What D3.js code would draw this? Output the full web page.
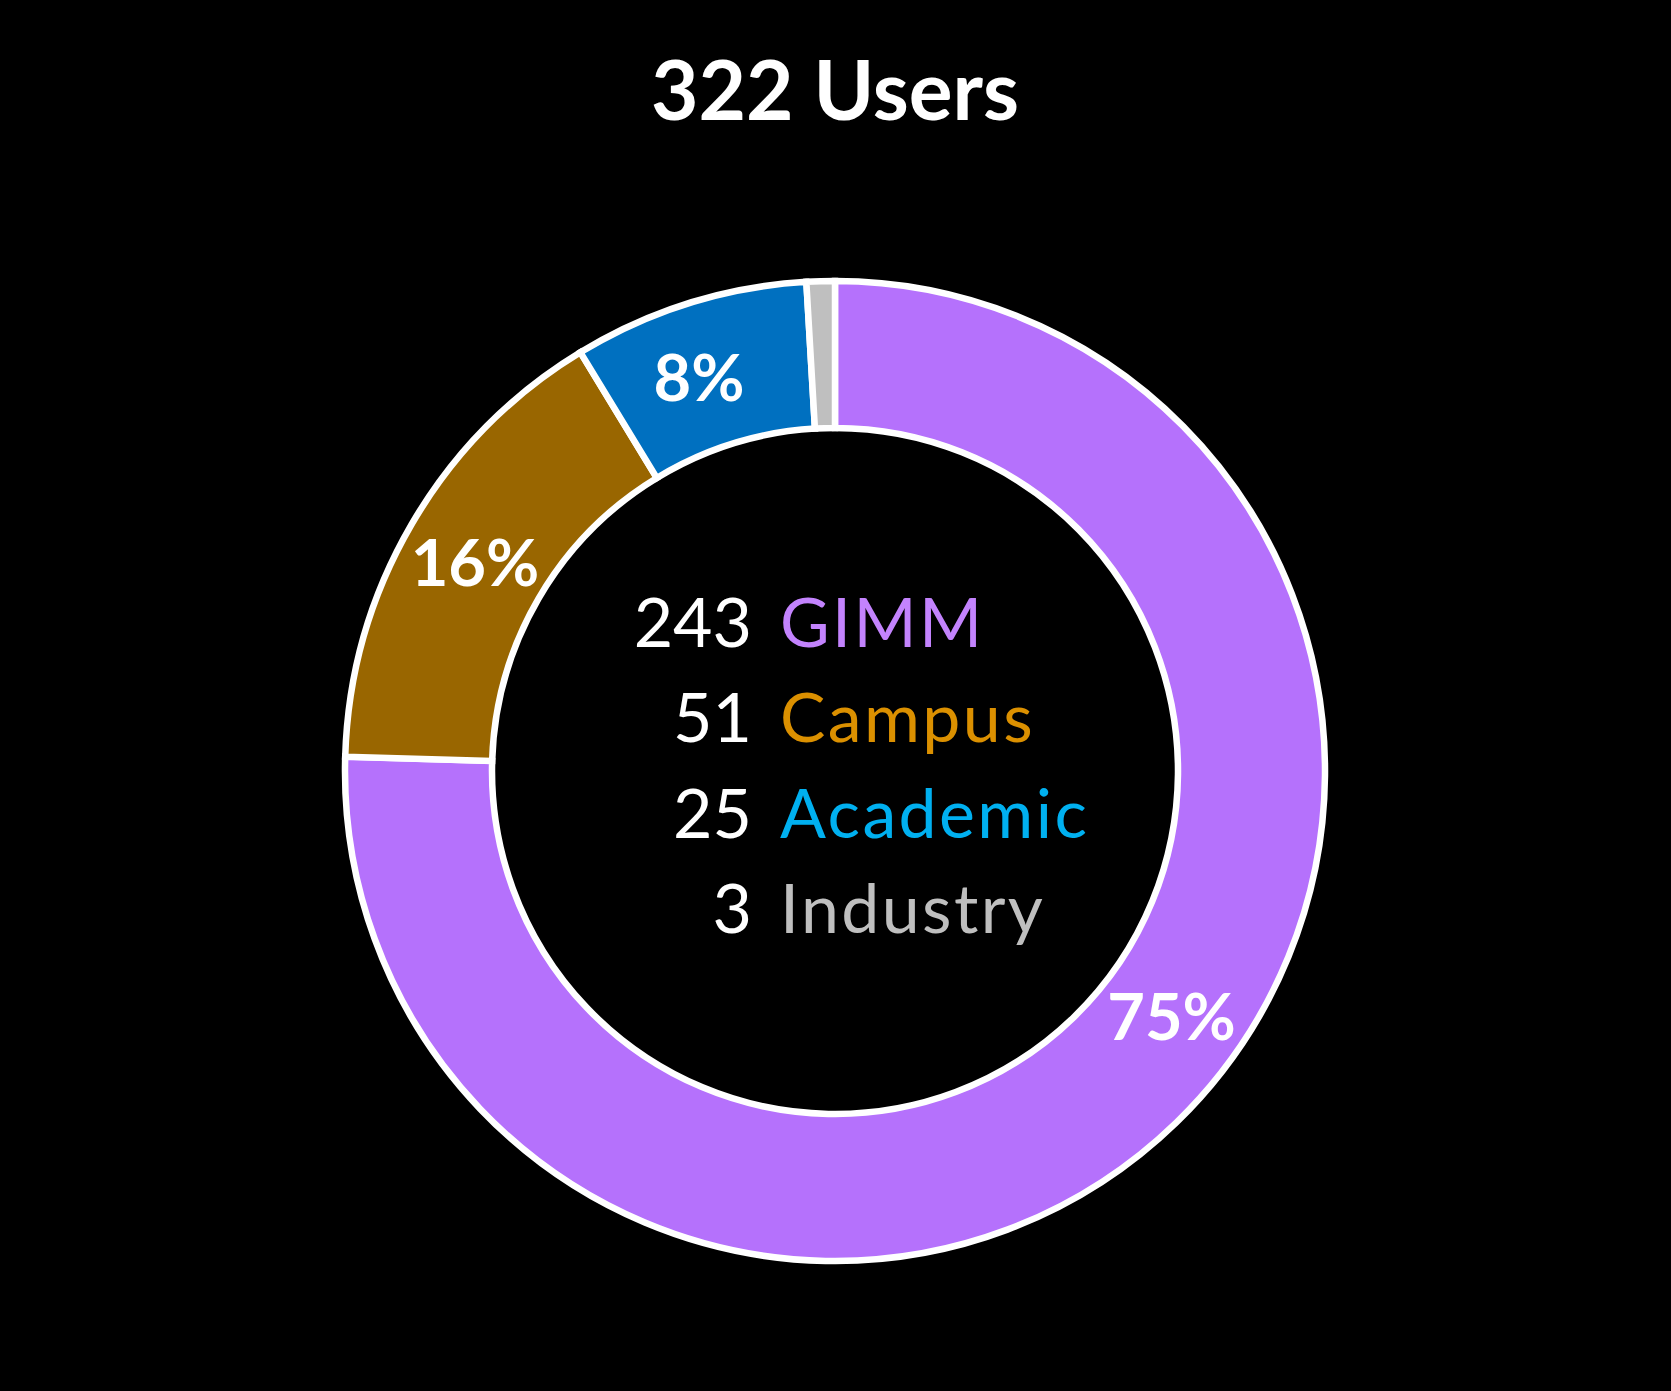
<!DOCTYPE html>
<html>
<head>
<meta charset="utf-8">
<script src="https://cdn.jsdelivr.net/npm/d3@7"></script>
<style>
  html, body { margin: 0; padding: 0; background: #000; }
  svg { display: block; font-family: Lato, "Open Sans", sans-serif; }
</style>
</head>
<body>
<div id="donut"></div>
<script>
const categories = ["GIMM", "Campus", "Academic", "Industry"];
const counts = [243, 51, 25, 3];
const titleText = "322 Users";

const sliceColors = ["#B571FC", "#996600", "#0070C0", "#BFBFBF"];
const textColors = ["#C383FD", "#DB9000", "#00B0F0", "#BFBFBF"];

const width = 1671;
const height = 1391;
const cx = 835, cy = 771;
const outerR = 490, innerR = 343;

const svg = d3.select("#donut")
    .append("svg")
    .attr("width", width)
    .attr("height", height);

svg.append("rect")
    .attr("width", width)
    .attr("height", height)
    .attr("fill", "#000");

// title
svg.append("text")
    .attr("x", cx)
    .attr("y", 120)
    .attr("text-anchor", "middle")
    .attr("fill", "#fff")
    .style("font-weight", 700)
    .style("font-size", "82px")
    .text(titleText);

const data = categories.map((c, i) => ({name: c, value: counts[i]}));
const total = d3.sum(counts);

const pie = d3.pie()
    .value(d => d.value)
    .sort(null);

const arc = d3.arc()
    .innerRadius(innerR)
    .outerRadius(outerR);

const g = svg.append("g")
    .attr("transform", `translate(${cx}, ${cy})`);

const arcs = pie(data);

g.selectAll("path")
    .data(arcs)
    .join("path")
    .attr("d", arc)
    .attr("fill", (d, i) => sliceColors[i])
    .attr("stroke", "#fff")
    .attr("stroke-width", 6.5)
    .attr("stroke-linejoin", "miter");

// percentage labels (the big slice's label sits a bit up from its middle in the original)
const labelNudge = [-0.17, 0, -0.03, 0];
g.selectAll("text.pct")
    .data(arcs.filter(d => d.value / total >= 0.05))
    .join("text")
    .attr("class", "pct")
    .attr("transform", d => {
        const i = d.index;
        const a = (d.startAngle + d.endAngle) / 2 + labelNudge[i];
        const r = (innerR + outerR) / 2;
        return `translate(${r * Math.sin(a)}, ${-r * Math.cos(a)})`;
    })
    .attr("text-anchor", "middle")
    .attr("dy", "0.37em")
    .attr("fill", "#fff")
    .style("font-weight", 700)
    .style("font-size", "65px")
    .text(d => Math.round(d.value / total * 100) + "%");

// centre legend
const rowY = d3.scalePoint()
    .domain(categories)
    .range([647, 933]);

const rows = svg.append("g");

rows.selectAll("text.num")
    .data(data)
    .join("text")
    .attr("class", "num")
    .attr("x", 752)
    .attr("y", d => rowY(d.name))
    .attr("text-anchor", "end")
    .attr("fill", "#fff")
    .style("font-size", "68px")
    .text(d => d.value);

rows.selectAll("text.cat")
    .data(data)
    .join("text")
    .attr("class", "cat")
    .attr("x", 780)
    .attr("y", d => rowY(d.name))
    .attr("fill", (d, i) => textColors[i])
    .style("font-size", "68px")
    .style("letter-spacing", "2.4px")
    .text(d => d.name);
</script>
</body>
</html>
